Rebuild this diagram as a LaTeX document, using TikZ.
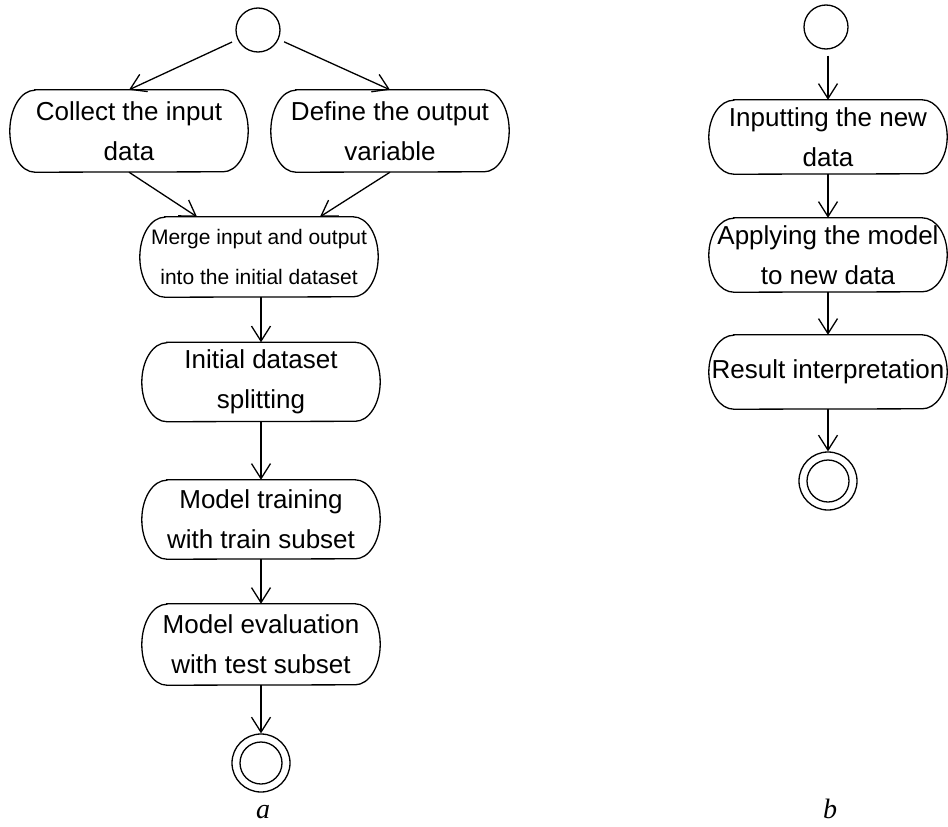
\documentclass[tikz,border=0pt]{standalone}
\usepackage{fontspec}
\setmainfont{Liberation Sans}
\newfontfamily\capfont{Liberation Serif}
\usetikzlibrary{arrows.meta}
\tikzset{
  act/.style={shape=rectangle, draw=none, inner sep=0pt, minimum width=238pt, align=center,
    font=\fontsize{26}{40}\selectfont},
  small/.style={font=\fontsize{21}{40}\selectfont},
  pillline/.style={draw=black, line width=1.3pt},
  flow/.style={draw=black, line width=1.3pt, -{Straight Barb[length=15pt,width=19pt,line width=1.3pt]}},
  startc/.style={circle, draw=black, line width=1.3pt, minimum size=44pt, inner sep=0pt},
  endc/.style={circle, draw=black, line width=1.3pt, minimum size=58pt, inner sep=0pt},
  capt/.style={font=\capfont\itshape\fontsize{28}{28}\selectfont, inner sep=0pt}
}
\newcommand{\pillshape}[2]{%
  \draw[pillline] ([xshift=25pt]#1.north west) -- ([xshift=-25pt]#1.north east)
    arc[start angle=90,end angle=-90,x radius=25pt,y radius=#2]
    -- ([xshift=25pt]#1.south west)
    arc[start angle=270,end angle=90,x radius=25pt,y radius=#2] -- cycle;}
\begin{document}
\begin{tikzpicture}[x=1pt,y=-1pt]
\useasboundingbox (0,0) rectangle (948,827);
% ---- diagram a ----
\node[startc] (s1) at (258,30) {};
\node[act, minimum height=82pt] (collect) at (129,131) {Collect the input\\data};
\node[act, minimum height=82pt] (define) at (390,131) {Define the output\\variable};
\node[act, small, minimum height=80pt] (merge) at (259,257) {Merge input and output\\into the initial dataset};
\node[act, minimum height=79pt] (split) at (261,382) {Initial dataset\\splitting};
\node[act, minimum height=79pt] (train) at (261,519.5) {Model training\\with train subset};
\node[act, minimum height=81pt] (eval) at (261,644.5) {Model evaluation\\with test subset};
\node[endc] (f1) at (261,763) {};
\node[circle, draw=black, line width=1.3pt, minimum size=42pt, inner sep=0pt] (f1in) at (f1) {};
\node[capt] (capa) at (263,812) {a};
\pillshape{collect}{41pt}
\pillshape{define}{41pt}
\pillshape{merge}{40pt}
\pillshape{split}{39.5pt}
\pillshape{train}{39.5pt}
\pillshape{eval}{40.5pt}
\draw[flow, shorten <=6pt] (s1) -- (collect.north);
\draw[flow, shorten <=6pt] (s1) -- (define.north);
\draw[flow] (collect.south) -- ([xshift=-62pt]merge.north);
\draw[flow] (define.south) -- ([xshift=61pt]merge.north);
\draw[flow] (merge.south -| split.north) -- (split.north);
\draw[flow] (split.south) -- (train.north);
\draw[flow] (train.south) -- (eval.north);
\draw[flow] (eval.south) -- (f1.north);
% ---- diagram b ----
\node[startc] (s2) at (826,27) {};
\node[act, minimum height=74pt] (input) at (828,137) {Inputting the new\\data};
\node[act, minimum height=74pt] (apply) at (828,255) {Applying the model\\to new data};
\node[act, minimum height=74pt] (result) at (828,372) {Result interpretation};
\node[endc] (f2) at (828,481) {};
\node[circle, draw=black, line width=1.3pt, minimum size=42pt, inner sep=0pt] (f2in) at (f2) {};
\node[capt] (capb) at (830,809) {b};
\pillshape{input}{37pt}
\pillshape{apply}{37pt}
\pillshape{result}{37pt}
\draw[flow, shorten <=6pt] (s2.south -| input.north) -- (input.north);
\draw[flow] (input.south) -- (apply.north);
\draw[flow] (apply.south) -- (result.north);
\draw[flow] (result.south) -- (f2.north);
\end{tikzpicture}
\end{document}
